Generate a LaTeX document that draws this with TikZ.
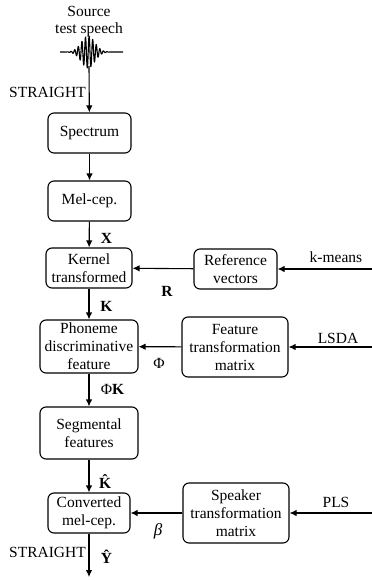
\documentclass[tikz,border=0pt]{standalone}
\usepackage{fontspec}
\setmainfont{Liberation Serif}
\usetikzlibrary{arrows.meta}
\begin{document}
\begin{tikzpicture}[x=1pt,y=-1pt,
  every node/.style={font=\fontsize{15.5}{18}\selectfont},
  blk/.style={draw,line width=1.1pt,rounded corners=6pt,align=center,inner sep=0pt},
  arr/.style={line width=1.1pt,-{Latex[length=7pt,width=6.5pt]}},
  lbl/.style={anchor=base,inner sep=0pt}]
\useasboundingbox (0,0) rectangle (372,581);
% title and waveform
\node[lbl] (src1) at (89,16) {Source};
\node[lbl] (src2) at (89,33) {test speech};
\draw[line width=1.1pt,line join=round] plot[domain=60:123,samples=500] (\x,{52+16*exp(-((\x-88)/9.5)^2)*sin(100*\x)});
\coordinate (wave) at (89,66);
% boxes
\node[blk,minimum width=83pt,minimum height=40pt] (spec) at (89.5,133) {Spectrum};
\node[blk,minimum width=83pt,minimum height=40pt] (mel) at (89.5,201) {Mel-cep.};
\node[blk,minimum width=86pt,minimum height=40pt] (kern) at (89,268) {Kernel\\transformed};
\node[blk,minimum width=83pt,minimum height=40pt] (ref) at (235.5,269) {Reference\\vectors};
\node[blk,minimum width=98pt,minimum height=53pt] (phon) at (89,346.5) {Phoneme\\discriminative\\feature};
\node[blk,minimum width=106pt,minimum height=60pt] (ftm) at (235,347) {Feature\\transformation\\matrix};
\node[blk,minimum width=98pt,minimum height=52pt] (seg) at (89,433) {Segmental\\features};
\node[blk,minimum width=82pt,minimum height=40pt] (conv) at (89,513) {Converted\\mel-cep.};
\node[blk,minimum width=106pt,minimum height=60pt] (stm) at (236,513) {Speaker\\transformation\\matrix};
% inputs from right
\coordinate (kin) at (372,269);
\coordinate (lin) at (372,347);
\coordinate (pin) at (372,513);
\coordinate (out) at (89,577);
% connectors
\draw[arr] (wave) -- (spec);
\draw[arr] (spec) -- (mel);
\draw[arr] (mel) -- (kern);
\draw[arr] (kern) -- (phon);
\draw[arr] (phon) -- (seg);
\draw[arr] (seg) -- (conv);
\draw[arr] (conv) -- (out);
\draw[arr] (ref) -- (kern);
\draw[arr] (ftm) -- (phon);
\draw[arr] (stm) -- (conv);
\draw[arr] (kin) -- (ref);
\draw[arr] (lin) -- (ftm);
\draw[arr] (pin) -- (stm);
% labels
\node[lbl,anchor=base east] (st1) at (86,97) {STRAIGHT};
\node[lbl,anchor=base east] (st2) at (86,557) {STRAIGHT};
\node[lbl] (lX) at (106.5,243) {\textbf{X}};
\node[lbl] (lK) at (106.5,311) {\textbf{K}};
\node[lbl] (lR) at (167,296) {\textbf{R}};
\node[lbl] (lPhi) at (159,368) {Φ};
\node[lbl] (lPK) at (112.5,394) {Φ\textbf{K}};
\node[lbl] (lKh) at (106.5,488) {\textbf{K̂}};
\node[lbl] (lb) at (158,535) {\fontsize{17}{18}\selectfont\textit{β}};
\node[lbl] (lYh) at (106.5,563) {\textbf{Ŷ}};
\node[lbl] (km) at (336,262) {k-means};
\node[lbl] (lsda) at (338,343) {LSDA};
\node[lbl] (pls) at (336,507) {PLS};
\end{tikzpicture}
\end{document}
